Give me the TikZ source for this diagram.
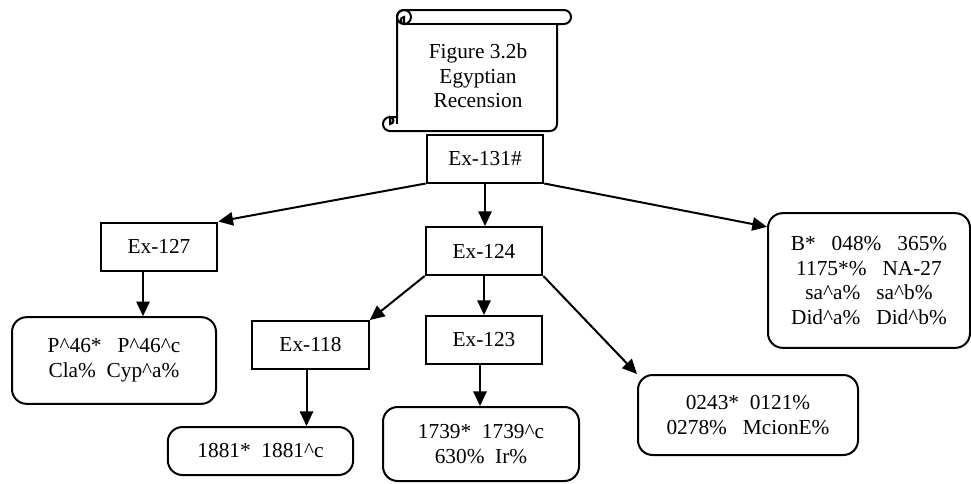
\documentclass[tikz,border=0pt]{standalone}
\usepackage{fontspec}
\setmainfont{Liberation Serif}
\usetikzlibrary{arrows.meta}

\newcommand{\crt}{\textasciicircum}

\tikzset{
  edition/.style={draw, line width=1.5pt, fill=white, minimum width=87.5pt, minimum height=36pt, align=center, inner sep=2pt},
  witness/.style={draw, line width=1.5pt, rounded corners=11pt, fill=white, align=center, inner sep=2pt},
  scrolltext/.style={align=center},
  arr/.style={line width=1.5pt, -{Triangle[length=11pt,width=10pt]}}
}

\begin{document}
\begin{tikzpicture}[x=0.75pt, y=-0.75pt, font=\fontsize{16}{18.5}\selectfont]
\useasboundingbox (0,0) rectangle (971,483);

% scroll
\draw[line width=1.5pt, fill=white] (397,117) -- (397,17) arc[start angle=180, end angle=270, radius=7] -- (564,10) arc[start angle=270, end angle=450, radius=7] -- (557,24) -- (557,124) arc[start angle=0, end angle=90, radius=7] -- (390,131) arc[start angle=90, end angle=270, radius=7] -- cycle;
\draw[line width=1.5pt] (404,24) -- (557,24) (397,117) -- (397,124);
\draw[line width=1.5pt] (404,17) circle[radius=7];
\filldraw[line width=1.5pt, fill=gray!50] (404,24) arc[start angle=90, end angle=270, radius=3.5] -- cycle;
\filldraw[line width=1.5pt, fill=gray!50] (390,117) arc[start angle=270, end angle=450, radius=3.5] -- cycle;
\node[scrolltext] (title) at (478,76) {Figure 3.2b\\Egyptian\\Recension};

% editions
\node[edition] (e131) at (485,158.5) {Ex-131\#};
\node[edition] (e124) at (484,251) {Ex-124};
\node[edition] (e127) at (159,246.5) {Ex-127};
\node[edition] (e118) at (310.5,345) {Ex-118};
\node[edition] (e123) at (484,340) {Ex-123};

% witnesses
\node[witness, minimum width=153pt, minimum height=65pt] (wP) at (114,360.5) {P\crt46*\ \ \ P\crt46\crt c\\Cla\%\ \ Cyp\crt a\%};
\node[witness, minimum width=139pt, minimum height=36pt] (w1881) at (260.5,451) {1881*\ \ 1881\crt c};
\node[witness, minimum width=147pt, minimum height=55.5pt] (w1739) at (481,444) {1739*\ \ 1739\crt c\\630\%\ \ Ir\%};
\node[witness, minimum width=165pt, minimum height=60pt] (w0243) at (748,415) {0243*\ \ 0121\%\\0278\%\ \ \ McionE\%};
\node[witness, minimum width=151.5pt, minimum height=101pt] (wB) at (869,280.5) {B*\ \ \ 048\%\ \ \ 365\%\\1175*\%\ \ \ NA-27\\sa\crt a\%\ \ \ sa\crt b\%\\Did\crt a\%\ \ \ Did\crt b\%};

% arrows
\draw[arr] (e131.south west) -- (e127.north east);
\draw[arr] (e131.south) -- (e131.south |- e124.north);
\draw[arr] (e131.south east) -- ([yshift=-11pt]wB.north west);
\draw[arr] ([xshift=-12pt]e127.south) -- ([xshift=-12pt]e127.south |- wP.north);
\draw[arr] (e124.south west) -- (e118.north east);
\draw[arr] (e124.south) -- (e123.north);
\draw[arr] (e124.south east) -- (w0243.north west);
\draw[arr] ([xshift=-3pt]e118.south) -- ([xshift=-3pt]e118.south |- w1881.north);
\draw[arr] ([xshift=-3pt]e123.south) -- ([xshift=-3pt]e123.south |- w1739.north);
\end{tikzpicture}
\end{document}
